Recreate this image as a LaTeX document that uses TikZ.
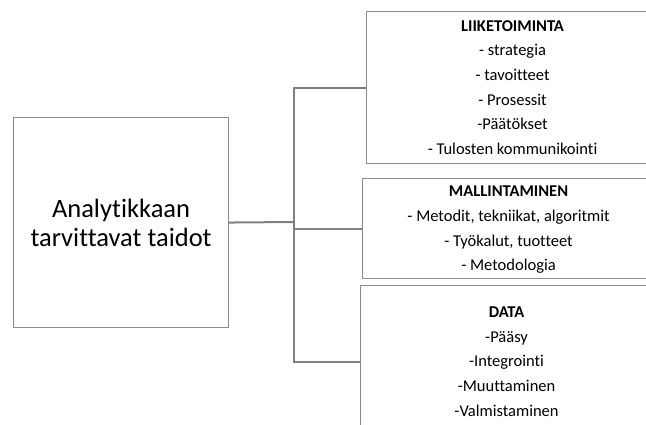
\documentclass[tikz,border=0pt]{standalone}
\usepackage{fontspec}
\setmainfont{Carlito}[Ligatures=NoCommon]
\usepackage{tikz}
\definecolor{boxgray}{RGB}{140,140,140}
\definecolor{linkgray}{RGB}{128,128,128}

\begin{document}
\begin{tikzpicture}[x=1pt, y=-1pt,
    box/.style={draw=boxgray, line width=1.1pt, fill=white, inner sep=0pt,
      anchor=north west, align=center},
    item/.style={box, minimum width=292, font=\fontsize{16.5}{24.6}\selectfont},
    link/.style={draw=linkgray, line width=2pt}]
    \useasboundingbox (0,0) rectangle (646,425);
    \clip (0,0) rectangle (646,425);
    %% Main box
    \node[box, minimum width=215, minimum height=210,
      font=\fontsize{26.5}{29}\selectfont] (main) at (13,117)
      {Analytikkaan\\tarvittavat taidot};
    %% Skill boxes
    \node[item, minimum height=152] (business) at (366,11)
      {\textbf{LIIKETOIMINTA}\\- strategia\\- tavoitteet\\- Prosessit\\-Päätökset\\- Tulosten kommunikointi};
    \node[item, minimum height=100, text depth=-2pt] (modelling) at (362,178)
      {\textbf{MALLINTAMINEN}\\- Metodit, tekniikat, algoritmit\\- Työkalut, tuotteet\\- Metodologia};
    \node[item, minimum height=152] (data) at (360,285)
      {\textbf{DATA}\\-Pääsy\\-Integrointi\\-Muuttaminen\\-Valmistaminen};
    %% Links
    \coordinate (trunk) at (294,222);
    \draw[link] (main.east) -- (trunk);
    \draw[link] (business.west) -| (trunk) |- (data.west);
    \draw[link] (trunk |- modelling.west) -- (modelling.west);
\end{tikzpicture}
\end{document}
